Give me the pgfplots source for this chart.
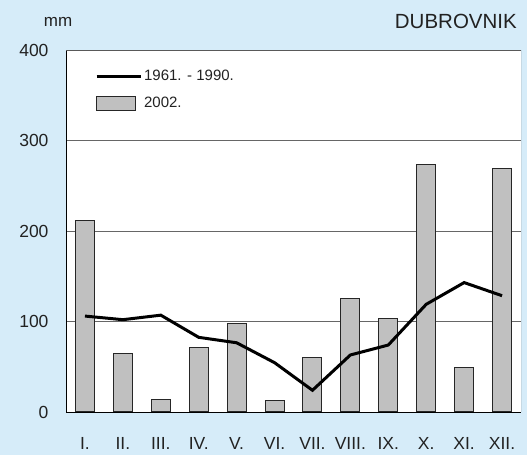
\documentclass[border=0pt]{standalone}
\usepackage{pgfplots}
\pgfplotsset{compat=1.18}
\usepackage{fontspec}
\setmainfont{Liberation Sans}
\definecolor{bg}{HTML}{D6ECF9}
\definecolor{barfill}{HTML}{C0C0C0}
\definecolor{txt}{HTML}{222222}
\begin{document}
\begin{tikzpicture}[x=1bp,y=1bp]
\fill[bg] (0,0) rectangle (527,455);
\node[anchor=base, text=txt, inner sep=0pt, font=\fontsize{17bp}{19bp}\selectfont] at (58,428) {mm};
\node[anchor=base east, text=txt, inner sep=0pt, font=\fontsize{20.5bp}{22bp}\selectfont] at (517,426) {DUBROVNIK};
\begin{axis}[
  at={(66bp,43bp)}, anchor=south west,
  width=455bp, height=362bp, scale only axis,
  xmin=-0.5, xmax=11.5, ymin=0, ymax=400,
  axis background/.style={fill=white},
  xtick={0,...,11},
  xticklabels={I.,II.,III.,IV.,V.,VI.,VII.,VIII.,IX.,X.,XI.,XII.},
  ytick={0,100,200,300,400},
  major tick length=0pt,
  tick style={draw=none},
  ymajorgrids, grid style={gray!80!black, line width=0.8pt},
  axis line style={line width=0.8pt},
  every axis x line/.append style={line width=1.5pt},
  every axis y line/.append style={line width=1.5pt},
  separate axis lines,
  axis x line*=bottom, axis y line*=left,
  tick label style={font=\fontsize{17.5bp}{19bp}\selectfont, text=txt},
  /pgf/number format/assume math mode=true,
  xticklabel style={anchor=base, yshift=-38bp},
  yticklabel style={xshift=-14bp},
  legend style={draw=none, fill=none, at={(0.057,0.955)}, anchor=north west,
    font=\fontsize{15bp}{17bp}\selectfont, row sep=11bp, text=txt},
  legend cell align=left,
  reverse legend,
]
\draw[gray!70!black, line width=0.8pt] (rel axis cs:0,1) -- (rel axis cs:1,1) -- (rel axis cs:1,0);
\addplot[ybar, bar width=19bp, fill=barfill, draw=black!85, line width=1pt,
  legend image code/.code={\draw[fill=barfill,draw=black!85,line width=0.8pt] (0bp,-7bp) rectangle (39bp,7bp);}]
coordinates {(0,212) (1,65) (2,14) (3,71) (4,97.5) (5,13) (6,60.5) (7,125.5) (8,103) (9,274) (10,49) (11,269)};
\addlegendentry{2002.}
\addplot[black, line width=3bp, sharp plot, legend image code/.code={\draw[black,line width=3bp] (0bp,0bp) -- (44bp,0bp);}]
coordinates {(0,106) (1,102) (2,107) (3,82.5) (4,76.5) (5,54.5) (6,24) (7,63) (8,74) (9,119) (10,143) (11,128.5)};
\addlegendentry{1961. - 1990.}
\end{axis}
\end{tikzpicture}
\end{document}
